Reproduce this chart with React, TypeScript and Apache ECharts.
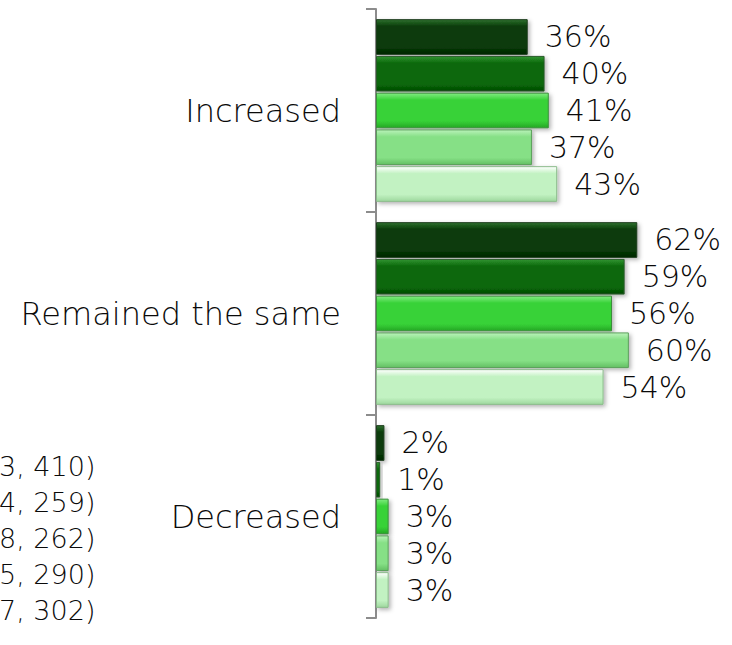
import React, { useEffect, useRef } from "react";
import * as echarts from "echarts";

const categories = ["Increased", "Remained the same", "Decreased"];
const seriesNames = ["3, 410)", "4, 259)", "8, 262)", "5, 290)", "7, 302)"];
const values1 = [36, 62, 2];
const values2 = [40, 59, 1];
const values3 = [41, 56, 3];
const values4 = [37, 60, 3];
const values5 = [43, 54, 3];
const allValues = [values1, values2, values3, values4, values5];

const baseColors = ["#083a08", "#086808", "#38d238", "#86e086", "#c2f2c2"];
const topColors = ["#2f702f", "#339433", "#80ec80", "#baf2ba", "#ffffff"];
const bottomColors = ["#022402", "#044a04", "#25a825", "#63c063", "#9ed89e"];
const borderColors = ["#1c3c1c", "#2a5a2a", "#3a8f3a", "#5a9f5a", "#8abb8a"];

const FONT = "'DejaVu Sans', sans-serif";
const WEIGHT = 200;
const TEXT_COLOR = "#0a0a0a";

export default function App() {
  const ref = useRef<HTMLDivElement>(null);
  useEffect(() => {
    if (!ref.current) return;
    const chart = echarts.init(ref.current, undefined, { renderer: "svg" });
    const series = allValues.map((vals, i) => ({
      name: seriesNames[i],
      type: "bar",
      data: vals,
      barGap: "3%",
      barCategoryGap: "10%",
      itemStyle: {
        color: new echarts.graphic.LinearGradient(0, 0, 0, 1, [
          { offset: 0, color: topColors[i] },
          { offset: 0.2, color: baseColors[i] },
          { offset: 0.8, color: baseColors[i] },
          { offset: 1, color: bottomColors[i] },
        ]),
        borderColor: borderColors[i],
        borderWidth: 1,
        shadowBlur: 4,
        shadowOffsetX: 2,
        shadowOffsetY: 2,
        shadowColor: "rgba(0,0,0,0.3)",
      },
      label: {
        show: true,
        position: "right",
        distance: 17,
        formatter: "{c}%",
        fontFamily: FONT,
        fontWeight: WEIGHT,
        fontSize: 30,
        color: TEXT_COLOR,
      },
    }));
    chart.setOption({
      animation: false,
      backgroundColor: "#ffffff",
      grid: { left: 376, top: 9, bottom: 27, right: 61, containLabel: false },
      legend: {
        orient: "vertical",
        left: -27,
        top: 452,
        padding: 0,
        itemWidth: 20,
        itemHeight: 14,
        itemGap: 8,
        data: seriesNames,
        textStyle: {
          fontFamily: FONT,
          fontWeight: WEIGHT,
          fontSize: 27,
          lineHeight: 28,
          color: TEXT_COLOR,
        },
      },
      xAxis: {
        type: "value",
        min: 0,
        max: 70,
        show: false,
      },
      yAxis: {
        type: "category",
        data: categories,
        inverse: true,
        axisLine: { show: true, lineStyle: { color: "#8c8c8c", width: 2 } },
        axisTick: { show: true, length: 10, lineStyle: { color: "#8c8c8c", width: 2 } },
        axisLabel: {
          margin: 35,
          fontFamily: FONT,
          fontWeight: WEIGHT,
          fontSize: 32,
          color: TEXT_COLOR,
        },
      },
      series,
    });
    return () => chart.dispose();
  }, []);
  return (
    <div
      ref={ref}
      style={{ position: "fixed", left: 0, top: 0, width: 732, height: 645 }}
    />
  );
}
